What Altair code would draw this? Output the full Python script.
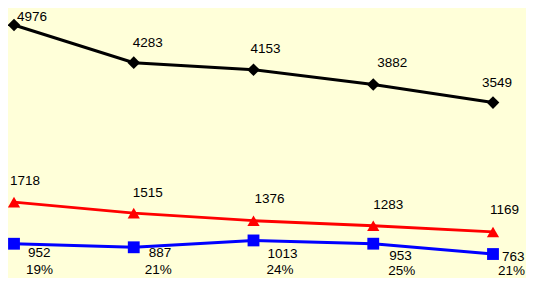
import altair as alt
import pandas as pd

# ---- data ----
positions = [0, 1, 2, 3, 4]
black_vals = [4976, 4283, 4153, 3882, 3549]
red_vals = [1718, 1515, 1376, 1283, 1169]
blue_vals = [952, 887, 1013, 953, 763]
blue_pct = ["19%", "21%", "24%", "25%", "21%"]

# ---- style ----
BG = "#FFFFD9"
FONT = "Liberation Sans"
FS = 13.5
black_off = [(3, -4), (-1, -16), (-3, -17), (4, -17), (-11, -16)]
red_off = [(-4, -17), (-1, -16), (1, -18), (0, -17), (-3, -18)]
blue_off = [(14, 13), (15, 10), (14, 18), (16, 16), (9, 7)]
pct_off = [(12, 30), (11, 27), (13, 34), (15, 31), (5, 21)]

xs = alt.Scale(domain=[-0.0501, 4.2756], nice=False, zero=False)
ys = alt.Scale(domain=[322, 5289], nice=False, zero=False)


def series_layers(vals, color, shape, size, sw):
    df = pd.DataFrame({"i": positions, "v": vals})
    base = alt.Chart(df).encode(
        x=alt.X("i:Q", scale=xs, axis=None),
        y=alt.Y("v:Q", scale=ys, axis=None),
    )
    line = base.mark_line(color=color, strokeWidth=sw)
    pts = base.mark_point(filled=True, shape=shape, size=size, color=color, opacity=1)
    return [line, pts]


def label_layers(vals, texts, offs):
    out = []
    for i, v, t, (dx, dy) in zip(positions, vals, texts, offs):
        df = pd.DataFrame({"i": [i], "v": [v], "t": [t]})
        out.append(
            alt.Chart(df)
            .mark_text(align="left", baseline="alphabetic", dx=dx, dy=dy,
                       font=FONT, fontSize=FS, color="#000000")
            .encode(
                x=alt.X("i:Q", scale=xs, axis=None),
                y=alt.Y("v:Q", scale=ys, axis=None),
                text="t:N",
            )
        )
    return out


layers = []
layers += series_layers(black_vals, "#000000", "diamond", 160, 3)
layers += series_layers(red_vals, "#FF0000", "triangle-up", 150, 2.8)
layers += series_layers(blue_vals, "#0000FF", "square", 140, 3)
layers += label_layers(black_vals, [str(v) for v in black_vals], black_off)
layers += label_layers(red_vals, [str(v) for v in red_vals], red_off)
layers += label_layers(blue_vals, [str(v) for v in blue_vals], blue_off)
layers += label_layers(blue_vals, blue_pct, pct_off)

chart = (
    alt.layer(*layers)
    .properties(width=518, height=270, background=BG, padding=0,
                autosize=alt.AutoSizeParams(type="none"))
    .configure_view(stroke=None)
)

chart.save("out.html", embed_options={"renderer": "svg", "actions": False})
